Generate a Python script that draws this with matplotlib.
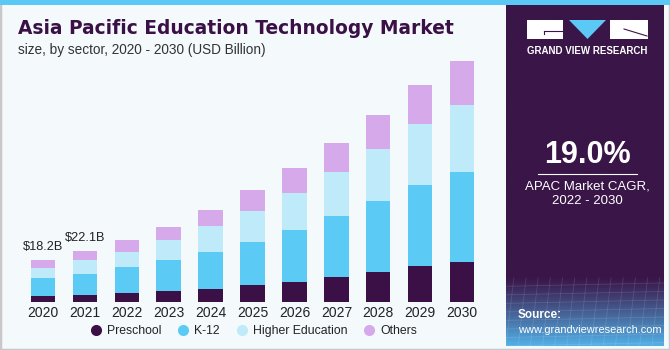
import numpy as np
import matplotlib.pyplot as plt
from matplotlib.patches import Rectangle, Polygon
from matplotlib.lines import Line2D

years = ['2020', '2021', '2022', '2023', '2024', '2025', '2026', '2027', '2028', '2029', '2030']
preschool = [2.6, 3.0, 3.9, 4.7, 5.8, 7.4, 8.9, 11.0, 13.1, 15.9, 17.6]
k12 = [7.7, 9.4, 11.2, 13.5, 16.2, 18.9, 22.7, 26.6, 31.1, 35.2, 39.0]
higher_ed = [4.6, 5.9, 6.8, 9.0, 11.1, 13.4, 16.2, 19.1, 22.6, 26.6, 29.4]
others = [3.3, 3.8, 5.1, 5.7, 7.2, 9.0, 10.7, 12.7, 14.7, 17.2, 19.1]
series_names = ['Preschool', 'K-12', 'Higher Education', 'Others']
colors = ['#3a1046', '#5bcbf5', '#bfeaf9', '#d5a9ea']
callouts = {0: '$18.2B', 1: '$22.1B'}

W, H = 670, 350
fig = plt.figure(figsize=(6.7, 3.5), dpi=100)
fig.patch.set_facecolor('#f4f9fc')

def fx(px):
    return px / W

def fy(py):
    return 1 - py / H

# outer frame + top stripe
fig.patches.append(Rectangle((0, 0), 1, 1, transform=fig.transFigure, fill=False,
                             edgecolor='#c8c8c8', lw=2.5))
fig.patches.append(Rectangle((0, fy(5)), 1, 5 / H, transform=fig.transFigure,
                             facecolor='#5bc8f5', edgecolor='none', zorder=5))

# right panel
panel = fig.add_axes([fx(506), fy(346), fx(664 - 506), (346 - 5) / H])
grad = np.zeros((200, 2, 3))
top = np.array([0x3a, 0x15, 0x48]) / 255
bot = np.array([0x52, 0xb0, 0xe6]) / 255
t = np.linspace(0, 1, 200)
w = np.clip((t - 0.8) / 0.2, 0, 1) ** 1.1
for i in range(200):
    grad[i, :, :] = top * (1 - w[i]) + bot * w[i]
panel.imshow(grad, aspect='auto', extent=[0, 1, 0, 1], origin='upper')
# faint grid texture at bottom
for k in range(14):
    panel.plot([k / 13, k / 13 + 0.05], [0.0, 0.2], color='white', alpha=0.12, lw=0.6)
for k in range(8):
    panel.plot([0, 1], [k * 0.025, k * 0.025 + 0.01], color='white', alpha=0.12, lw=0.6)
panel.set_xlim(0, 1)
panel.set_ylim(0, 1)
panel.axis('off')

# logo
fig.patches.append(Rectangle((fx(527), fy(39)), fx(36), 19 / H, transform=fig.transFigure,
                             facecolor='white', edgecolor='none', zorder=6))
fig.patches.append(Rectangle((fx(610), fy(39)), fx(38), 19 / H, transform=fig.transFigure,
                             facecolor='white', edgecolor='none', zorder=6))
fig.patches.append(Polygon([(fx(569), fy(20)), (fx(606), fy(20)), (fx(587.5), fy(39))],
                           transform=fig.transFigure, facecolor='#5bc8f5', edgecolor='none', zorder=6))
fig.lines.append(Line2D([fx(544), fx(563)], [fy(31), fy(31)], transform=fig.transFigure,
                        color='#3a1548', lw=0.8, zorder=7))
fig.lines.append(Line2D([fx(544), fx(544)], [fy(31), fy(34)], transform=fig.transFigure,
                        color='#3a1548', lw=0.8, zorder=7))
fig.lines.append(Line2D([fx(624), fx(647)], [fy(29), fy(36)], transform=fig.transFigure,
                        color='#3a1548', lw=0.8, zorder=7))
fig.text(fx(587.5), fy(51), 'GRAND VIEW RESEARCH', color='white', fontsize=7,
         fontweight='bold', ha='center', va='center', family='Liberation Sans', zorder=7)

fig.text(fx(587.5), fy(155), '19.0%', color='white', fontsize=22, fontweight='bold',
         ha='center', va='center', family='Liberation Sans', zorder=7)
fig.lines.append(Line2D([fx(538), fx(637)], [fy(173.5), fy(173.5)], transform=fig.transFigure,
                        color='white', lw=0.8, zorder=7))
fig.text(fx(587.5), fy(186), 'APAC Market CAGR,', color='white', fontsize=9.5,
         ha='center', va='center', family='Liberation Sans', zorder=7)
fig.text(fx(587.5), fy(201), '2022 - 2030', color='white', fontsize=9.5,
         ha='center', va='center', family='Liberation Sans', zorder=7)
fig.text(fx(518), fy(315), 'Source:', color='white', fontsize=8.5, fontweight='bold',
         ha='left', va='center', family='Liberation Sans', zorder=7)
fig.text(fx(518), fy(330), 'www.grandviewresearch.com', color='white', fontsize=7.9,
         ha='left', va='center', family='Liberation Sans', zorder=7)

# titles
fig.text(fx(18), fy(29), 'Asia Pacific Education Technology Market', color='#3a1046',
         fontsize=13.4, fontweight='heavy', ha='left', va='center', family='DejaVu Sans')
fig.text(fx(18), fy(50), 'size, by sector, 2020 - 2030 (USD Billion)', color='#333333',
         fontsize=9.8, ha='left', va='center', family='Liberation Sans')

# chart
px_per_unit = 41.94
x0_px = 42.8
ax_left, ax_right = 10, 495
base_px, top_px = 302, 55
scale = 2.29
ax = fig.add_axes([fx(ax_left), fy(base_px), fx(ax_right - ax_left), (base_px - top_px) / H])
ax.set_facecolor('none')
x = np.arange(len(years))
bottom = np.zeros(len(years))
for vals, name, c in zip([preschool, k12, higher_ed, others], series_names, colors):
    ax.bar(x, vals, width=0.58, bottom=bottom, color=c, label=name, edgecolor='none')
    bottom += np.array(vals)
for i, txt in callouts.items():
    ax.annotate(txt, (x[i], bottom[i]), xytext=(0, 5), textcoords='offset points',
                ha='center', va='bottom', fontsize=9.2, color='#222222', family='Liberation Sans')
ax.set_xlim((ax_left - x0_px) / px_per_unit, (ax_right - x0_px) / px_per_unit)
ax.set_ylim(0, (base_px - top_px) / scale)
ax.set_xticks(x)
ax.set_xticklabels(years, fontsize=10, color='#222222', family='Liberation Sans')
ax.tick_params(axis='x', length=0, pad=3)
ax.set_yticks([])
for s in ax.spines.values():
    s.set_visible(False)

handles = [Line2D([], [], marker='o', ls='none', markersize=8, markerfacecolor=c,
                  markeredgecolor='none') for c in colors]
fig.legend(handles, series_names, loc='center', bbox_to_anchor=(fx(254), fy(331)), ncol=4,
           frameon=False, handlelength=0.8, handletextpad=0.5, columnspacing=1.4,
           prop={'family': 'Liberation Sans', 'size': 8.8}, labelcolor='#222222')

fig.savefig('out.png', dpi=100, facecolor=fig.get_facecolor())
